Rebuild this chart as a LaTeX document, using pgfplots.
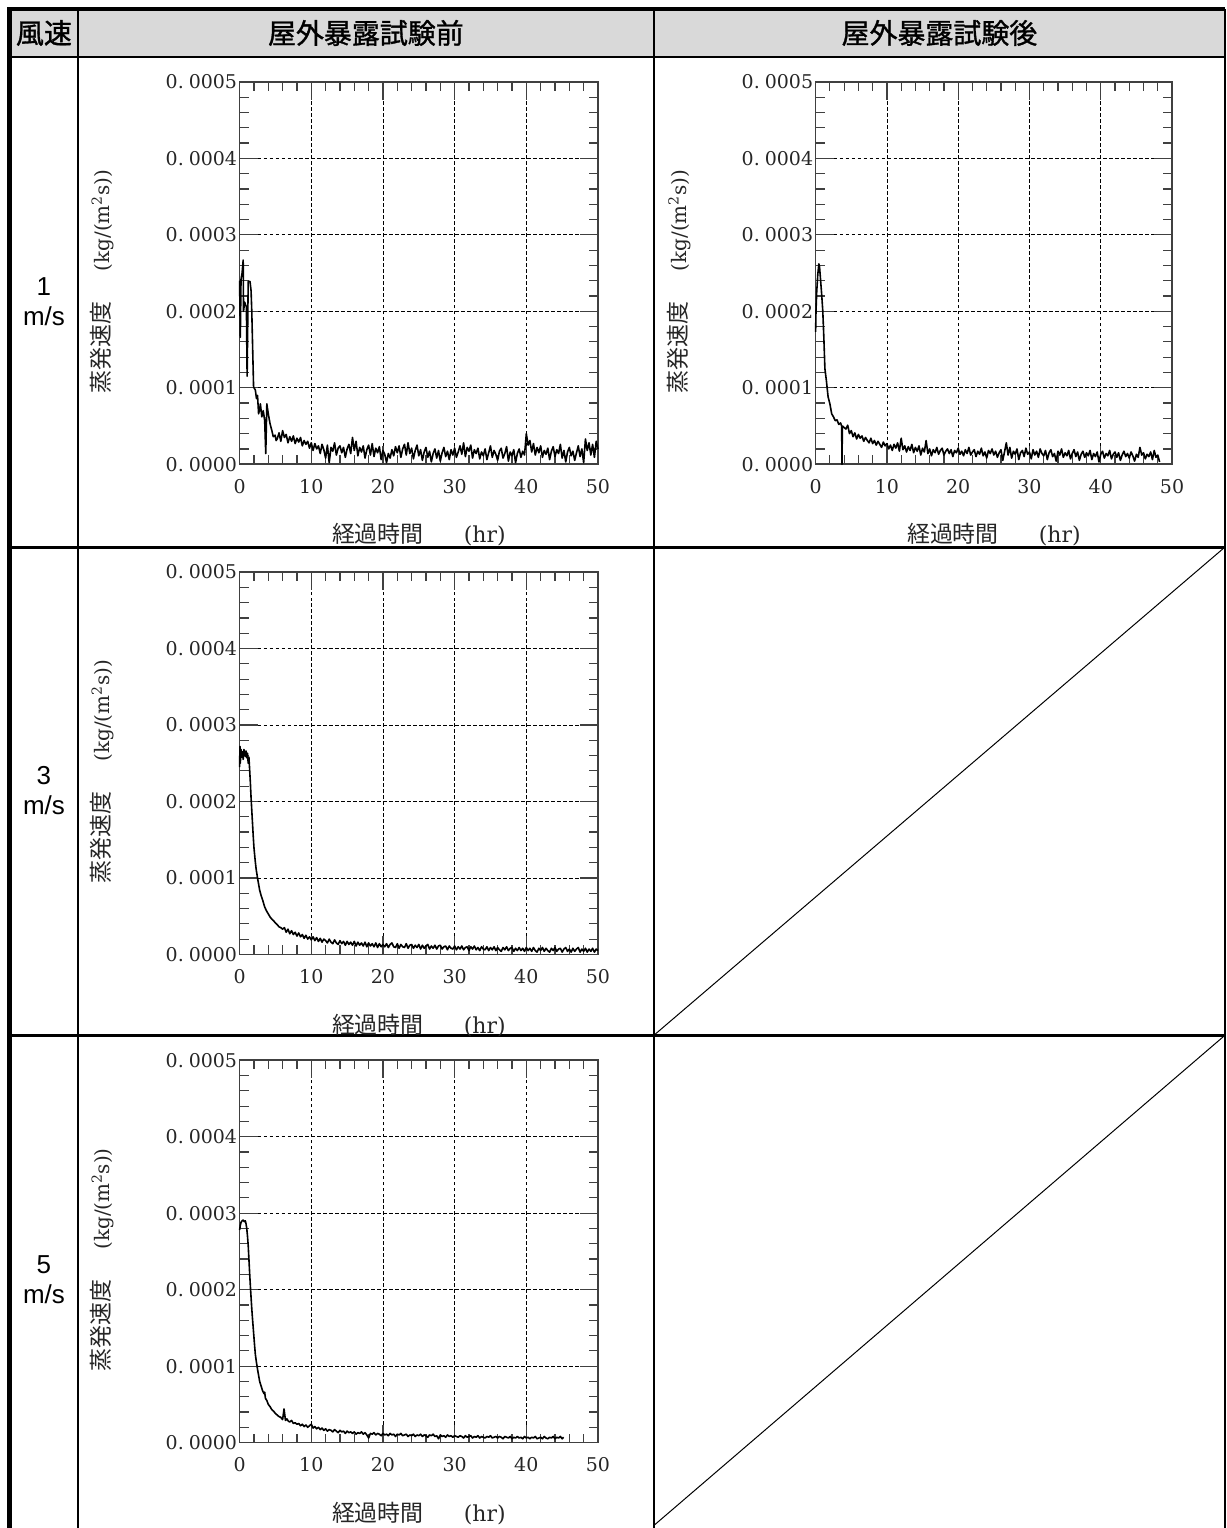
\documentclass[border=0pt]{standalone}
\usepackage{fontspec}
\usepackage{pgfplots}
\usepackage{pgfplotstable}
\pgfplotsset{compat=1.18}
\newfontfamily\cjk{Noto Sans CJK JP}
\newfontfamily\cjkh[FakeBold=1.2]{Noto Sans CJK JP}
\newfontfamily\arialf{Liberation Sans}
\newfontfamily\serifd{DejaVu Serif}
\definecolor{hdr}{HTML}{D9D9D9}
\definecolor{axc}{HTML}{404040}

% y values in units of 1e-6 kg/(m^2 s)
\pgfplotstableread{
x y
0 240
0.1 166
0.2 242
0.35 250
0.5 267
0.55 200
0.7 212
0.85 208
0.95 206
1.05 115
1.2 239
1.45 239
1.6 227
1.7 200
1.95 101
2.2 97
2.35 86
2.5 90
2.65 66
2.8 72
2.9 79
3.1 62
3.3 70
3.5 57
3.65 14
3.8 79
4.0 66
4.25 53
4.5 44
4.7 36
4.95 38
5.1 31
5.25 33
5.5 41
5.75 30
6.0 44
6.25 35
6.5 39
6.75 28
7.0 36
7.25 30
7.5 37
7.75 27
8.0 34
8.25 29
8.5 35
8.75 24
9.0 31
9.25 26
9.5 30
9.75 21
10.0 28
10.25 18
10.5 27
10.75 20
11.0 24
11.25 14
11.5 26
11.75 19
12.0 8
12.25 25
12.5 2
12.75 22
13.0 17
13.25 28
13.5 12
13.75 21
14.0 24
14.25 15
14.5 22
14.75 9
15.0 20
15.25 26
15.5 14
15.75 35
16.0 18
16.25 30
16.5 11
16.75 22
17.0 16
17.25 24
17.5 8
17.75 19
18.0 25
18.25 12
18.5 27
18.75 10
19.0 21
19.25 15
19.5 23
19.75 6
20.0 18
20.25 13
20.5 2
20.75 14
21.0 8
21.25 19
21.5 11
21.75 23
22.0 15
22.25 24
22.5 9
22.75 20
23.0 26
23.25 12
23.5 28
23.75 14
24.0 21
24.25 7
24.5 18
24.75 25
25.0 11
25.25 19
25.5 5
25.75 16
26.0 22
26.25 9
26.5 17
26.75 3
27.0 14
27.25 20
27.5 8
27.75 18
28.0 4
28.25 15
28.5 22
28.75 10
29.0 17
29.25 6
29.5 19
29.75 12
30.0 21
30.25 9
30.5 16
30.75 24
31.0 13
31.25 28
31.5 10
31.75 22
32.0 17
32.25 25
32.5 8
32.75 19
33.0 14
33.25 21
33.5 7
33.75 16
34.0 11
34.25 20
34.5 6
34.75 15
35.0 24
35.25 9
35.5 18
35.75 13
36.0 5
36.25 17
36.5 21
36.75 8
37.0 14
37.25 23
37.5 4
37.75 16
38.0 11
38.25 19
38.5 2
38.75 14
39.0 20
39.25 9
39.5 17
39.75 12
40.0 40
40.25 25
40.5 31
40.75 16
41.0 27
41.25 12
41.5 22
41.75 15
42.0 24
42.25 9
42.5 18
42.75 13
43.0 21
43.25 6
43.5 17
43.75 23
44.0 10
44.25 19
44.5 14
44.75 26
45.0 8
45.25 18
45.5 3
45.75 16
46.0 22
46.25 11
46.5 17
46.75 5
47.0 15
47.25 24
47.5 10
47.75 20
48.0 2
48.25 33
48.5 18
48.75 28
49.0 12
49.25 26
49.5 9
49.75 30
50.0 20
}\dataA

\pgfplotstableread{
x y
0 173
0.05 200
0.15 225
0.3 248
0.45 262
0.55 258
0.7 240
0.85 222
1.0 201
1.15 166
1.3 125
1.5 110
1.75 88
2.0 79
2.25 66
2.5 62
2.75 57
3.0 58
3.25 52
3.5 54
3.65 50
3.7 0
3.75 50
4.0 48
4.25 46
4.5 51
4.75 40
5.0 44
5.25 36
5.5 41
5.75 33
6.0 39
6.25 34
6.5 37
6.75 30
7.0 35
7.25 31
7.5 28
7.75 34
8.0 27
8.25 31
8.5 25
8.75 30
9.0 26
9.25 22
9.5 29
9.75 24
10.0 27
10.25 20
10.5 25
10.75 18
11.0 26
11.25 21
11.5 28
11.75 17
12.0 34
12.25 19
12.5 24
12.75 16
13.0 23
13.25 18
13.5 26
13.75 15
14.0 22
14.25 17
14.5 24
14.75 12
15.0 21
15.25 16
15.5 31
15.75 14
16.0 20
16.25 11
16.5 19
16.75 15
17.0 22
17.25 13
17.5 18
17.75 21
18.0 12
18.25 17
18.5 20
18.75 14
19.0 19
19.25 10
19.5 18
19.75 15
20.0 21
20.25 13
20.5 17
20.75 11
21.0 19
21.25 14
21.5 22
21.75 12
22.0 16
22.25 19
22.5 10
22.75 17
23.0 13
23.25 21
23.5 11
23.75 16
24.0 8
24.25 18
24.5 14
24.75 20
25.0 12
25.25 17
25.5 9
25.75 15
26.0 19
26.25 5
26.5 16
26.75 28
27.0 12
27.25 22
27.5 8
27.75 17
28.0 13
28.25 20
28.5 6
28.75 15
29.0 18
29.25 10
29.5 21
29.75 13
30.0 16
30.25 7
30.5 19
30.75 12
31.0 17
31.25 9
31.5 20
31.75 14
32.0 11
32.25 18
32.5 6
32.75 15
33.0 19
33.25 10
33.5 14
33.75 4
34.0 17
34.25 12
34.5 20
34.75 9
35.0 15
35.25 11
35.5 18
35.75 7
36.0 14
36.25 19
36.5 10
36.75 16
37.0 5
37.25 13
37.5 17
37.75 9
38.0 15
38.25 11
38.5 18
38.75 6
39.0 14
39.25 10
39.5 16
39.75 3
40.0 13
40.25 17
40.5 8
40.75 14
41.0 11
41.25 18
41.5 7
41.75 13
42.0 16
42.25 9
42.5 15
42.75 5
43.0 12
43.25 17
43.5 10
43.75 14
44.0 8
44.25 16
44.5 11
44.75 4
45.0 13
45.25 9
45.5 22
45.75 12
46.0 15
46.25 7
46.5 13
46.75 10
47.0 16
47.25 6
47.5 18
47.75 9
48.0 12
48.25 3
}\dataB

\pgfplotstableread{
x y
0 245
0.05 272
0.1 250
0.2 268
0.3 258
0.4 265
0.5 255
0.6 268
0.7 262
0.8 259
0.9 266
1.0 257
1.1 263
1.2 250
1.3 258
1.4 242
1.5 225
1.6 205
1.75 180
1.9 155
2.0 140
2.15 125
2.3 112
2.5 100
2.65 92
2.8 84
3.0 77
3.25 70
3.5 62
3.75 57
4.0 53
4.25 49
4.5 46
4.75 44
5.0 41
5.25 39
5.5 36
5.75 35
6.0 33
6.25 35
6.5 29
6.75 33
7.0 27
7.25 31
7.5 26
7.75 29
8.0 24
8.25 28
8.5 23
8.75 26
9.0 21
9.25 25
9.5 20
9.75 23
10.0 19
10.25 23
10.5 18
10.75 22
11.0 17
11.25 21
11.5 16
11.75 20
12.0 18
12.25 15
12.5 20
12.75 16
13.0 14
13.25 19
13.5 15
13.75 13
14.0 18
14.25 14
14.5 17
14.75 12
15.0 17
15.25 13
15.5 16
15.75 12
16.0 17
16.25 11
16.5 16
16.75 12
17.0 15
17.25 11
17.5 16
17.75 10
18.0 15
18.25 11
18.5 14
18.75 10
19.0 15
19.25 9
19.5 14
19.75 10
20.0 13
20.25 10
20.5 14
20.75 9
21.0 13
21.25 15
21.5 10
21.75 9
22.0 14
22.25 8
22.5 13
22.75 10
23.0 9
23.25 14
23.5 8
23.75 12
24.0 13
24.25 8
24.5 12
24.75 9
25.0 13
25.25 7
25.5 12
25.75 8
26.0 11
26.25 13
26.5 7
26.75 11
27.0 8
27.25 12
27.5 7
27.75 11
28.0 12
28.25 7
28.5 10
28.75 11
29.0 6
29.25 11
29.5 8
29.75 7
30.0 11
30.25 6
30.5 10
30.75 7
31.0 11
31.25 6
31.5 9
31.75 10
32.0 5
32.25 10
32.5 7
32.75 11
33.0 6
33.25 9
33.5 5
33.75 10
34.0 7
34.25 6
34.5 10
34.75 5
35.0 9
35.25 6
35.5 10
35.75 5
36.0 9
36.25 6
36.5 4
36.75 9
37.0 6
37.25 10
37.5 5
37.75 8
38.0 9
38.25 4
38.5 8
38.75 5
39.0 9
39.25 5
39.5 8
39.75 4
40.0 9
40.25 5
40.5 8
40.75 4
41.0 9
41.25 5
41.5 3
41.75 8
42.0 5
42.25 9
42.5 4
42.75 8
43.0 5
43.25 3
43.5 8
43.75 5
44.0 9
44.25 4
44.5 7
44.75 8
45.0 3
45.25 7
45.5 9
45.75 4
46.0 7
46.25 3
46.5 8
46.75 4
47.0 7
47.25 9
47.5 3
47.75 7
48.0 4
48.25 8
48.5 3
48.75 7
49.0 4
49.25 8
49.5 3
49.75 7
50.0 5
}\dataC

\pgfplotstableread{
x y
0 278
0.1 284
0.2 288
0.35 290
0.5 291
0.65 289
0.8 290
0.9 286
1.0 280
1.1 270
1.2 258
1.3 240
1.4 222
1.5 205
1.6 190
1.7 175
1.8 162
1.9 150
2.0 138
2.1 126
2.2 115
2.35 105
2.5 96
2.65 88
2.8 80
3.0 74
3.2 68
3.4 64
3.5 66
3.6 58
3.8 55
4.0 50
4.25 47
4.5 43
4.75 41
5.0 38
5.25 36
5.5 34
5.75 33
6.0 30
6.2 44
6.4 29
6.6 31
6.8 28
7.0 27
7.25 29
7.5 25
7.75 26
8.0 24
8.25 25
8.5 22
8.75 24
9.0 21
9.25 23
9.5 20
9.75 22
10.0 24
10.25 19
10.5 21
10.75 18
11.0 20
11.25 17
11.5 19
11.75 16
12.0 18
12.25 15
12.5 17
12.75 16
13.0 14
13.25 17
13.5 15
13.75 13
14.0 16
14.25 14
14.5 15
14.75 12
15.0 15
15.25 13
15.5 14
15.75 12
16.0 14
16.25 11
16.5 13
16.75 12
17.0 14
17.25 11
17.5 13
17.75 10
18.0 6
18.25 12
18.5 11
18.75 13
19.0 10
19.25 12
19.5 11
19.75 9
20.0 12
20.25 10
20.5 11
20.75 9
21.0 12
21.25 10
21.5 11
21.75 8
22.0 11
22.25 10
22.5 12
22.75 9
23.0 10
23.25 11
23.5 8
23.75 10
24.0 9
24.25 11
24.5 8
24.75 10
25.0 9
25.25 11
25.5 8
25.75 10
26.0 9
26.25 7
26.5 10
26.75 9
27.0 11
27.25 8
27.5 9
27.75 5
28.0 10
28.25 8
28.5 9
28.75 7
29.0 10
29.25 8
29.5 9
29.75 7
30.0 9
30.25 8
30.5 7
30.75 9
31.0 8
31.25 6
31.5 9
31.75 7
32.0 8
32.25 9
32.5 6
32.75 8
33.0 7
33.25 9
33.5 6
33.75 8
34.0 7
34.25 6
34.5 8
34.75 7
35.0 9
35.25 6
35.5 7
35.75 8
36.0 6
36.25 8
36.5 7
36.75 5
37.0 8
37.25 7
37.5 6
37.75 8
38.0 5
38.25 7
38.5 6
38.75 8
39.0 6
39.25 7
39.5 5
39.75 8
40.0 6
40.25 7
40.5 5
40.75 7
41.0 6
41.25 8
41.5 5
41.75 6
42.0 7
42.25 5
42.5 8
42.75 6
43.0 5
43.25 7
43.5 6
43.75 8
44.0 5
44.25 7
44.5 6
44.75 8
45.0 5
45.2 7
}\dataD

\pgfplotsset{
  myax/.style={
    scale only axis, width=359pt, height=383pt, anchor=south west,
    xmin=0, xmax=50, ymin=0, ymax=500,
    xtick={0,10,20,30,40,50},
    ytick={0,100,200,300,400,500},
    yticklabels={0.\hspace{5pt}0000,0.\hspace{5pt}0001,0.\hspace{5pt}0002,0.\hspace{5pt}0003,0.\hspace{5pt}0004,0.\hspace{5pt}0005},
    minor x tick num=4, minor y tick num=4,
    tick align=inside, xtick pos=both, ytick pos=both,
    xticklabel pos=lower, yticklabel pos=left,
    major tick length=18pt, minor tick length=9pt,
    grid=major,
    major grid style={black, line width=0.8pt, dash pattern=on 3.5pt off 2.5pt},
    axis line style={axc, line width=1.6pt},
    every tick/.style={axc, line width=1.2pt},
    /pgf/number format/assume math mode=true,
    ticklabel style={font=\serifd\fontsize{19}{21}\selectfont, text=black!85},
    yticklabel style={xshift=1pt},
    xticklabel style={anchor=center, yshift=-22pt},
    label style={text=black!85},
    xlabel={{\cjk\fontsize{23}{25}\selectfont 経過時間}\hspace{40pt}{\serifd\fontsize{22}{24}\selectfont (hr)}},
    ylabel={{\cjk\fontsize{23}{25}\selectfont 蒸発速度}\hspace{30pt}{\serifd\fontsize{20}{22}\selectfont (kg/(m\textsuperscript{2}s))}},
    xlabel style={at={(axis description cs:0.5,-0.185)}, anchor=center},
    ylabel style={at={(axis description cs:-0.384,0.478)}, anchor=center},
    clip=false,
  },
  dline/.style={black, line width=1.6pt, line join=round}
}

\begin{document}
\begin{tikzpicture}
\begin{scope}[x=1pt,y=-1pt]
\useasboundingbox (0,0) rectangle (1229,1528);
\fill[hdr] (9.5,9) rectangle (1227,57);
\draw[line width=2.5pt] (78,9) -- (78,1535);
\draw[line width=2.5pt] (655,9) -- (655,1535);
\draw[line width=2.5pt] (9.5,57) -- (1227,57);
\draw[line width=3pt] (9.5,548) -- (1227,548);
\draw[line width=3pt] (9.5,1037) -- (1227,1037);
\draw[line width=4.5pt] (9.5,1535) -- (9.5,9) -- (1227,9);
\draw[line width=2.5pt] (1227,9) -- (1227,1535);
\draw[line width=1pt] (655,1037) -- (1227,548);
\draw[line width=1pt] (655,1528) -- (1227,1037);
\node[font=\cjkh\fontsize{28}{28}\selectfont] at (44,33) {風速};
\node[font=\cjkh\fontsize{28}{28}\selectfont] at (366.5,33) {屋外暴露試験前};
\node[font=\cjkh\fontsize{28}{28}\selectfont] at (941,33) {屋外暴露試験後};
\node[font=\arialf\fontsize{26}{30}\selectfont, align=center] at (44,302) {1\\m/s};
\node[font=\arialf\fontsize{26}{30}\selectfont, align=center] at (44,792) {3\\m/s};
\node[font=\arialf\fontsize{26}{30}\selectfont, align=center] at (44,1282) {5\\m/s};
\end{scope}

\begin{axis}[myax, at={(240pt,-465pt)}]
\addplot[dline] table {\dataA};
\end{axis}
\begin{axis}[myax, width=357pt, at={(817pt,-465pt)}]
\addplot[dline] table {\dataB};
\end{axis}
\begin{axis}[myax, at={(240pt,-956pt)}]
\addplot[dline] table {\dataC};
\end{axis}
\begin{axis}[myax, at={(240pt,-1445pt)}]
\addplot[dline] table {\dataD};
\end{axis}
\end{tikzpicture}
\end{document}
